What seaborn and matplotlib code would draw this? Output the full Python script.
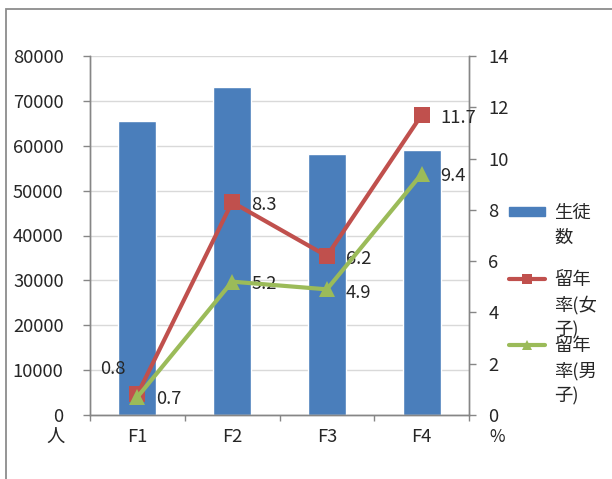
import matplotlib
matplotlib.use("Agg")
import matplotlib.pyplot as plt
from matplotlib.lines import Line2D
from matplotlib.patches import Patch, Rectangle
import seaborn as sns
import pandas as pd

sns.set_theme(style="white")
plt.rcParams["font.family"] = ["Noto Sans CJK JP", "DejaVu Sans"]

grades = ["F1", "F2", "F3", "F4"]
students = [65500, 73100, 58200, 59100]
repeat_female = [0.8, 8.3, 6.2, 11.7]
repeat_male = [0.7, 5.2, 4.9, 9.4]

BLUE = "#4A7EBB"
RED = "#C0504D"
GREEN = "#9BBB59"
AXIS = "#868686"
GRID = "#D9D9D9"
TXT = "#262626"
FS = 13.2

df = pd.DataFrame({"grade": grades, "students": students,
                   "female": repeat_female, "male": repeat_male})

W, H = 612, 479
fig = plt.figure(figsize=(W / 100, H / 100), dpi=100)
ax = fig.add_axes([90 / W, 64 / H, (469 - 90) / W, (415 - 56) / H])

# outer chart frame
fig.add_artist(Rectangle((6 / W, -0.1), 1.2, (479 - 9) / H + 0.1, transform=fig.transFigure,
                         fill=False, edgecolor="#8C8C8C", linewidth=1.3))

sns.barplot(data=df, x="grade", y="students", ax=ax, color=BLUE, saturation=1,
            width=0.4, zorder=2)
ax.set_ylim(0, 80000)
ax.set_yticks(range(0, 80001, 10000))
ax.yaxis.grid(True, color=GRID, linewidth=1)
ax.set_axisbelow(True)
ax.set_xlim(-0.5, 3.5)
ax.set_xlabel("")
ax.set_ylabel("")

ax2 = ax.twinx()
sns.lineplot(data=df, x="grade", y="female", ax=ax2, color=RED, marker="s",
             markersize=11, linewidth=3, markeredgewidth=0, zorder=3)
sns.lineplot(data=df, x="grade", y="male", ax=ax2, color=GREEN, marker="^",
             markersize=12, linewidth=3, markeredgewidth=0, zorder=4)
ax2.set_ylim(0, 14)
ax2.set_yticks(range(0, 15, 2))
ax2.set_xlim(-0.5, 3.5)
ax2.set_ylabel("")
ax2.set_xlabel("")

for a in (ax, ax2):
    for s in a.spines.values():
        s.set_color(AXIS)
        s.set_linewidth(1)
    a.spines["top"].set_visible(False)

ax.tick_params(axis="y", which="major", length=5, width=1, color=AXIS, pad=14,
               labelsize=FS, labelcolor=TXT, left=True)
ax2.tick_params(axis="y", which="major", length=5, width=1, color=AXIS, pad=9,
                labelsize=FS, labelcolor=TXT, right=True)
ax.tick_params(axis="x", which="major", length=0, pad=9, labelsize=FS, labelcolor=TXT)
ax.set_xticks([-0.5, 0.5, 1.5, 2.5, 3.5], minor=True)
ax.tick_params(axis="x", which="minor", length=4.5, width=1, color=AXIS, bottom=True)

# unit captions under each value axis
ax.text(-0.09, -0.062, "人", transform=ax.transAxes, ha="center", va="center",
        fontsize=FS, color=TXT)
ax2.text(1.075, -0.062, "%", transform=ax2.transAxes, ha="center", va="center",
         fontsize=FS - 1, color=TXT)

# data labels
for i, v in enumerate(repeat_female):
    if i == 0:
        ax2.annotate(f"{v}", (i, v), xytext=(-37, 25), textcoords="offset pixels",
                     fontsize=FS, color=TXT, ha="left", va="center")
    else:
        ax2.annotate(f"{v}", (i, v), xytext=(19, -3), textcoords="offset pixels",
                     fontsize=FS, color=TXT, ha="left", va="center")
for i, v in enumerate(repeat_male):
    dy = -4 if i == 2 else -2
    ax2.annotate(f"{v}", (i, v), xytext=(19, dy), textcoords="offset pixels",
                 fontsize=FS, color=TXT, ha="left", va="center")

# legend: first line of each label in the legend, wrapped remainder below it
handles = [Patch(facecolor=BLUE, edgecolor=BLUE),
           Line2D([], [], color=RED, marker="s", markersize=7, linewidth=3, markeredgewidth=0),
           Line2D([], [], color=GREEN, marker="^", markersize=7, linewidth=3, markeredgewidth=0)]
first = ["生徒", "留年", "留年"]
rest = ["数", "率(女\n子)", "率(男\n子)"]
leg = fig.legend(handles, first, loc="upper left",
                 bbox_to_anchor=(509 / W, 1 - 204 / H), frameon=False,
                 fontsize=FS, handlelength=1.95, handleheight=0.45, handletextpad=0.5,
                 labelspacing=2.65, borderpad=0, borderaxespad=0)
for t in leg.get_texts():
    t.set_color(TXT)

fig.canvas.draw()
r = fig.canvas.get_renderer()
for t, extra in zip(leg.get_texts(), rest):
    bb = t.get_window_extent(r)
    fig.text(bb.x0 / W, (bb.y0 - 7) / H, extra, ha="left", va="top",
             fontsize=FS, color=TXT, linespacing=1.45)

fig.savefig("out.png", dpi=100)
